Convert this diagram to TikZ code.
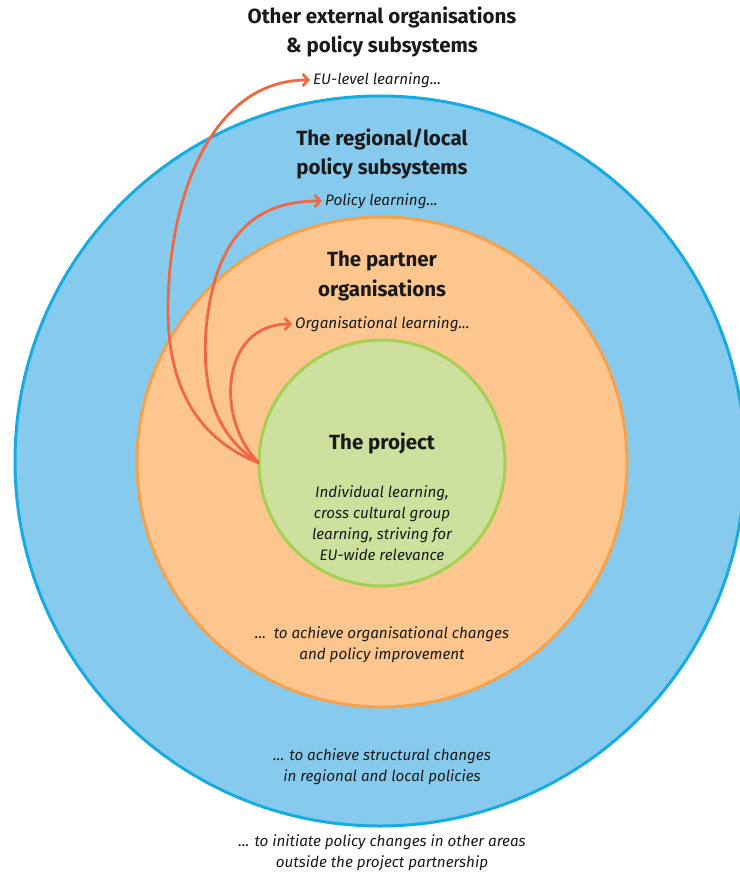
\documentclass[tikz,border=0pt]{standalone}
\usepackage{fontspec}
\setmainfont{Fira Sans}
\usetikzlibrary{arrows.meta}
\definecolor{blueFill}{HTML}{86CBEE}
\definecolor{blueLine}{HTML}{16ACE0}
\definecolor{orangeFill}{HTML}{FDC68F}
\definecolor{orangeLine}{HTML}{F5A24E}
\definecolor{greenFill}{HTML}{CDE09D}
\definecolor{greenLine}{HTML}{A6D054}
\definecolor{arrowRed}{HTML}{EE6843}
\definecolor{textDark}{HTML}{1A1A1A}
\tikzset{
  ring/.style={circle, inner sep=0pt, outer sep=0pt, line width=3pt},
  title/.style={font=\fontsize{20.5}{29.5}\selectfont\bfseries, text=textDark, align=center, inner sep=0pt},
  learn/.style={font=\fontsize{15.2}{21}\selectfont\itshape, text=textDark, anchor=west, inner sep=3pt},
  body/.style={font=\fontsize{15.2}{21}\selectfont\itshape, text=textDark, align=center, inner sep=0pt},
  flow/.style={draw=arrowRed, line width=2.8pt, -{Straight Barb[length=5.5pt,width=12pt]}}
}
\begin{document}
\begin{tikzpicture}[x=1pt,y=-1pt]
\useasboundingbox (0,0) rectangle (739,872);
\fill[white] (0,0) rectangle (739,872);
% circles
\node[ring, minimum size=730pt, draw=blueLine, fill=blueFill] (regional) at (380,461) {};
\node[ring, minimum size=490pt, draw=orangeLine, fill=orangeFill] (partner) at (382,462) {};
\node[ring, minimum size=246pt, draw=greenLine, fill=greenFill] (project) at (382,463) {};
% titles
\node[title] (tOther) at (382,32) {Other external organisations\\\& policy subsystems};
\node[title] (tRegional) at (382,154) {The regional/local\\policy subsystems};
\node[title] (tPartner) at (382,276) {The partner\\organisations};
\node[title] (tProject) at (382,443) {The project};
% learning labels
\node[learn] (lEU) at (310,80) {EU-level learning...};
\node[learn] (lPolicy) at (322,201) {Policy learning...};
\node[learn] (lOrg) at (292,324) {Organisational learning...};
% body texts
\node[body] (bProject) at (382,523.5) {Individual learning,\\cross cultural group\\learning, striving for\\EU-wide relevance};
\node[body] (bPartner) at (382,644.5) {...\ \ to achieve organisational changes\\and policy improvement};
\node[body] (bRegional) at (382,766.5) {... to achieve structural changes\\in regional and local policies};
\node[body] (bOther) at (382,852.5) {... to initiate policy changes in other areas\\outside the project partnership};
% arrows
\draw[flow] (project.west) .. controls (200,440) and (168,390) .. (168,310)
  .. controls (168,200) and (210,80) .. (lEU.west);
\draw[flow] (project.west) .. controls (215,435) and (202,390) .. (206,330)
  .. controls (215,230) and (260,201) .. (lPolicy.west);
\draw[flow] (project.west) .. controls (215,420) and (220,324) .. (lOrg.west);
\end{tikzpicture}
\end{document}
